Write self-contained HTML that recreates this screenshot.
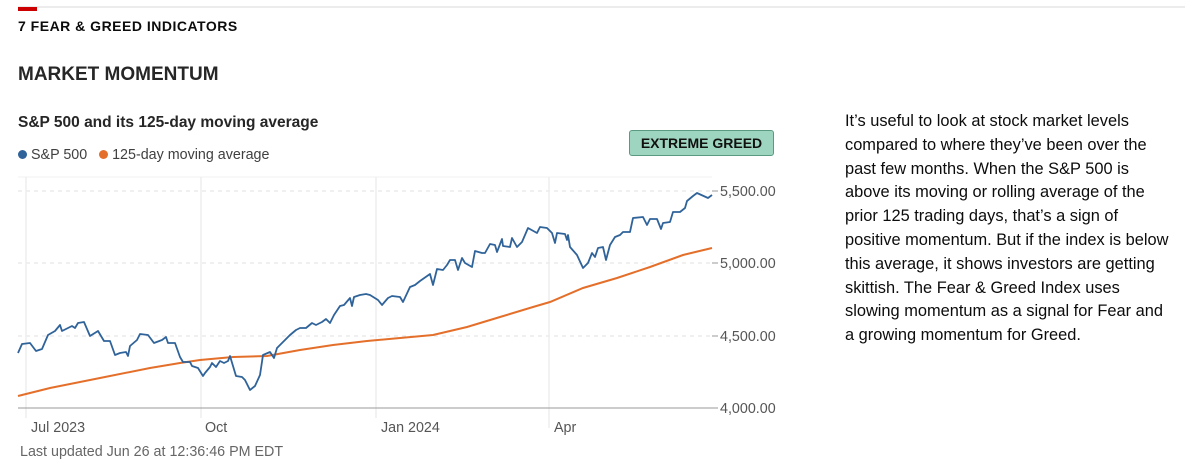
<!DOCTYPE html>
<html><head><meta charset="utf-8"><style>
body{margin:0;width:1200px;height:466px;background:#fff;font-family:"Liberation Sans",sans-serif;position:relative;overflow:hidden;color:#262626}
.a{position:absolute;white-space:nowrap}
</style></head><body>
<div class="a" style="left:18px;top:6px;width:1167px;height:2px;background:#ececec"></div>
<div class="a" style="left:18px;top:7px;width:19px;height:4px;background:#cc0000"></div>
<div class="a" style="left:18px;top:18px;font-size:14px;letter-spacing:0.5px;font-weight:bold;color:#0c0c0c">7 FEAR &amp; GREED INDICATORS</div>
<div class="a" style="left:18px;top:64px;font-size:19px;font-weight:bold;color:#262626">MARKET MOMENTUM</div>
<div class="a" style="left:18px;top:114px;font-size:15.5px;font-weight:bold;color:#262626">S&amp;P 500 and its 125-day moving average</div>
<div class="a" style="left:18px;top:147px;font-size:14.3px;color:#404040"><span style="display:inline-block;width:9px;height:9px;border-radius:50%;background:#2f6399;margin-right:4px"></span>S&amp;P 500 &nbsp; <span style="display:inline-block;width:9px;height:9px;border-radius:50%;background:#e46f2a;margin-right:4px"></span>125-day moving average</div>
<div class="a" style="left:629px;top:130px;width:143px;height:24px;background:#9ed5c0;border:1px solid #5a9a80;border-radius:3px;font-size:14px;font-weight:bold;color:#111;text-align:center;line-height:24px">EXTREME GREED</div>
<svg class="a" style="left:0;top:0" width="840" height="466">
<line x1="18" y1="177" x2="712" y2="177" stroke="#f0f0f0"/>
<g stroke="#e2e2e2" stroke-dasharray="4,4"><line x1="18" y1="191" x2="712" y2="191"/><line x1="18" y1="263" x2="712" y2="263"/><line x1="18" y1="336" x2="712" y2="336"/></g>
<g stroke="#eeeeee" stroke-width="1.5"><line x1="26" y1="177" x2="26" y2="418"/><line x1="201" y1="177" x2="201" y2="418"/><line x1="376" y1="177" x2="376" y2="418"/><line x1="549" y1="177" x2="549" y2="428"/></g>
<line x1="18" y1="408" x2="712" y2="408" stroke="#999" stroke-width="1"/>
<line x1="712" y1="191" x2="718" y2="191" stroke="#999"/><line x1="712" y1="263" x2="718" y2="263" stroke="#999"/><line x1="712" y1="336" x2="718" y2="336" stroke="#999"/><line x1="712" y1="408" x2="718" y2="408" stroke="#999"/>
<polyline fill="none" stroke="#e46f2a" stroke-width="2" points="18,396 50,388 100,378 150,368 180,363 200,360 233,357 267,356 300,350 333,345 367,341 400,338 433,335 467,327 500,317 533,307 550,302 583,288 617,278 650,267 683,255 712,248"/>
<polyline fill="none" stroke="#2f6399" stroke-width="1.8" stroke-linejoin="round" points="18,353 22,344 30,343 36,351 42,349 48,335 55,331 60,325 62,331 72,326 75,328 78,323 84,322 90,336 98,331 104,341 110,341 115,355 120,353 126,352 128,356 130,346 137,340 140,334 148,335 154,343 162,340 166,337 168,343 175,343 180,357 183,362 190,362 192,366 198,368 203,376 205,373 210,367 212,363 216,367 220,361 224,363 228,361 230,356 236,376 242,377 245,380 250,390 255,386 260,375 263,355 270,352 274,358 277,348 285,340 290,335 296,330 300,328 306,328 312,323 316,325 322,322 326,319 330,323 334,315 340,306 344,305 350,298 352,306 354,297 360,295 366,294 370,295 378,300 382,305 388,298 392,296 400,297 403,302 410,287 415,285 420,281 430,274 433,285 437,269 443,270 447,265 450,260 455,260 458,270 462,258 465,263 472,267 475,251 482,253 485,253 490,244 495,245 497,252 502,239 503,246 510,247 512,238 517,247 522,242 528,228 537,233 540,227 547,228 552,233 555,243 557,233 565,234 567,240 568,235 570,247 577,255 583,268 588,263 592,253 595,257 598,248 603,247 606,260 610,245 615,237 620,235 623,232 630,232 633,218 643,217 647,225 650,219 657,219 661,229 663,223 670,222 673,212 680,212 685,208 687,201 693,196 697,193 708,198 712,195"/>
<g font-size="14.3" fill="#555" font-family="Liberation Sans,sans-serif">
<text x="720" y="196">5,500.00</text><text x="720" y="268">5,000.00</text><text x="720" y="341">4,500.00</text><text x="720" y="413">4,000.00</text>
<text x="31" y="432">Jul 2023</text><text x="205" y="432">Oct</text><text x="381" y="432">Jan 2024</text><text x="554" y="432">Apr</text>
<text x="20" y="456" fill="#666">Last updated Jun 26 at 12:36:46 PM EDT</text>
</g>
</svg>
<div class="a" style="left:845px;top:110px;font-size:16.4px;line-height:23.8px;color:#0c0c0c;white-space:nowrap">It’s useful to look at stock market levels<br>compared to where they’ve been over the<br>past few months. When the S&amp;P 500 is<br>above its moving or rolling average of the<br>prior 125 trading days, that’s a sign of<br>positive momentum. But if the index is below<br>this average, it shows investors are getting<br>skittish. The Fear &amp; Greed Index uses<br>slowing momentum as a signal for Fear and<br>a growing momentum for Greed.</div>
</body></html>
